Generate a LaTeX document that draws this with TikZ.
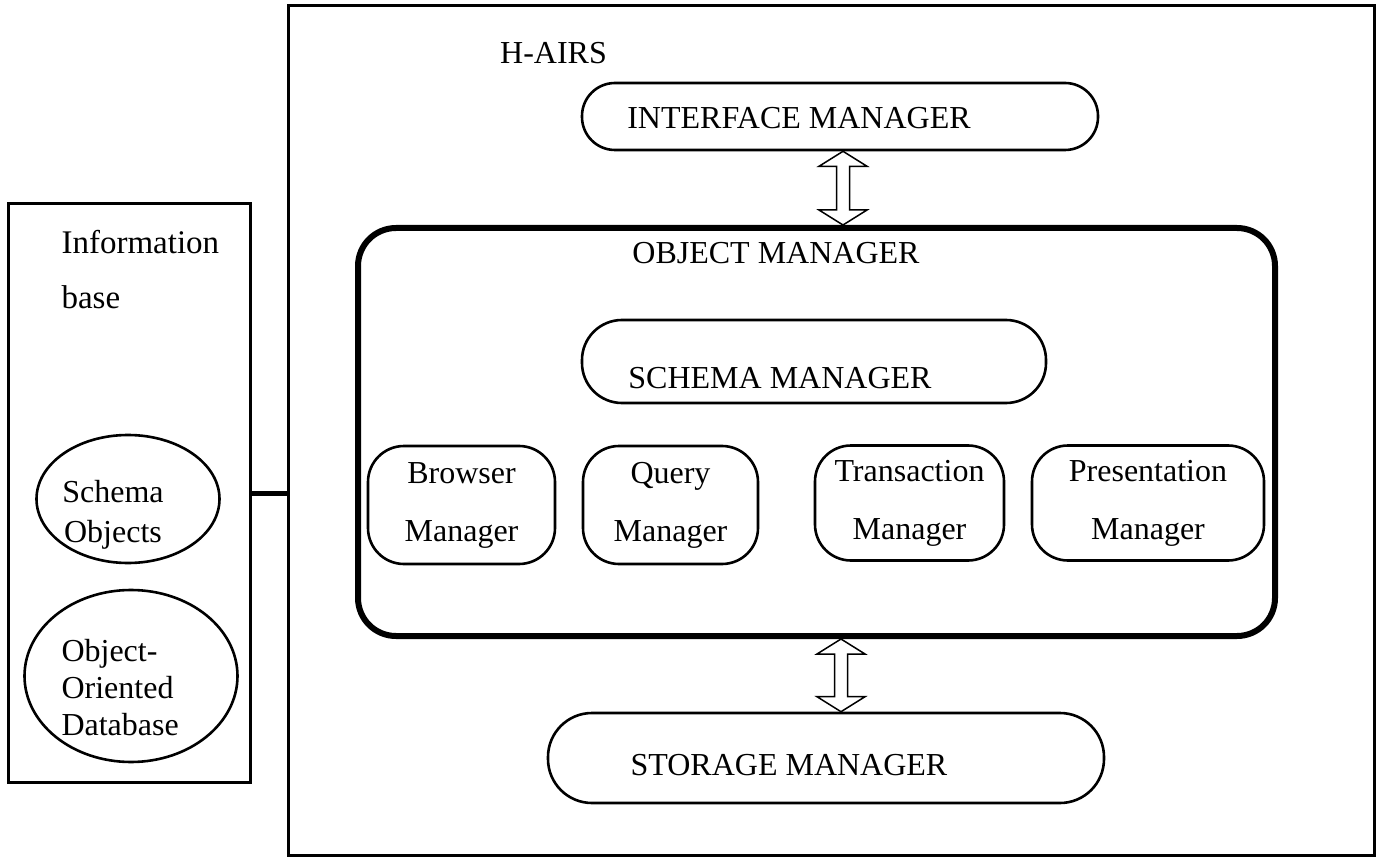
\documentclass[tikz,border=0pt]{standalone}
\usepackage{fontspec}
\setmainfont{Liberation Serif}
\usetikzlibrary{shapes.geometric,calc}
\newcommand\hollowarrow[2]{%
  \draw[dblarrow] (#1) -- ($(#1)+(24,15)$) -- ($(#1)+(6.5,15)$) -- ($(#2)+(6.5,-15)$)
    -- ($(#2)+(24,-15)$) -- (#2) -- ($(#2)+(-24,-15)$) -- ($(#2)+(-6.5,-15)$)
    -- ($(#1)+(-6.5,15)$) -- ($(#1)+(-24,15)$) -- cycle;}
\begin{document}
\begin{tikzpicture}[x=1pt,y=-1pt,
  capsfont/.style={font=\fontsize{32}{37}\selectfont, anchor=base, inner sep=0pt},
  mixfont/.style={font=\fontsize{32}{58}\selectfont, align=center},
  frame/.style={draw, line width=3pt, inner sep=0pt},
  mgr/.style={draw, line width=2.6pt, rounded corners=36pt, inner sep=0pt},
  ell/.style={draw, ellipse, line width=2.6pt, inner sep=0pt},
  dblarrow/.style={draw, line width=1.5pt, fill=white, line join=miter}
]
\useasboundingbox (0,0) rectangle (1378,858);
% outer frames
\node[frame, minimum width=1086pt, minimum height=849pt] (hairs) at (831,430.5) {};
\node[frame, minimum width=242pt, minimum height=578pt] (infobase) at (129,493) {};
\draw[line width=5pt] (infobase.east) -- (infobase.east -| hairs.west);
% information base
\node[font=\fontsize{33}{55}\selectfont, align=left, anchor=west] (iblabel) at (58,270) {Information\\base};
\node[ell, minimum width=183pt, minimum height=128pt] (schobj) at (128,499) {};
\node[font=\fontsize{32}{40}\selectfont, align=center] (schobjtext) at (113,515) {Schema\\Objects};
\node[ell, minimum width=213pt, minimum height=172pt] (ood) at (131,676) {};
\node[font=\fontsize{32}{37}\selectfont, align=left, anchor=west] (oodtext) at (58,688) {Object-\\Oriented\\Database};
% H-AIRS
\node[capsfont, anchor=base west] (hairslabel) at (500,64) {H-AIRS};
\node[mgr, rounded corners=33pt, minimum width=516pt, minimum height=67pt] (im) at (840,116.5) {};
\node[capsfont] (imtext) at (799,129) {INTERFACE MANAGER};
% object manager
\node[draw, line width=6pt, rounded corners=38pt, inner sep=0pt, minimum width=917pt, minimum height=408pt] (om) at (816.5,432) {};
\node[capsfont] (omtext) at (776,264) {OBJECT MANAGER};
\node[mgr, rounded corners=40pt, minimum width=464pt, minimum height=83pt] (sm) at (814,361.5) {};
\node[capsfont] (smtext) at (780,388) {SCHEMA MANAGER};
\node[mgr, mixfont, minimum width=187pt, minimum height=118pt] (bm) at (461.5,505) {Browser\\Manager};
\node[mgr, mixfont, minimum width=175pt, minimum height=118pt] (qm) at (670.5,505) {Query\\Manager};
\node[mgr, mixfont, minimum width=189pt, minimum height=115pt] (tm) at (909.5,503) {Transaction\\Manager};
\node[mgr, mixfont, minimum width=232pt, minimum height=115pt] (pm) at (1148,503) {Presentation\\Manager};
% storage manager
\node[mgr, rounded corners=44pt, minimum width=556pt, minimum height=90pt] (stm) at (826,758) {};
\node[capsfont] (stmtext) at (789,775) {STORAGE MANAGER};
% hollow double arrows
\coordinate (ax1) at (843,0);
\coordinate (ax2) at (841,0);
\coordinate (a1t) at (im.south -| ax1);
\coordinate (a1b) at (om.north -| ax1);
\coordinate (a2t) at (om.south -| ax2);
\coordinate (a2b) at (stm.north -| ax2);
\hollowarrow{a1t}{a1b}
\hollowarrow{a2t}{a2b}
\end{tikzpicture}
\end{document}
